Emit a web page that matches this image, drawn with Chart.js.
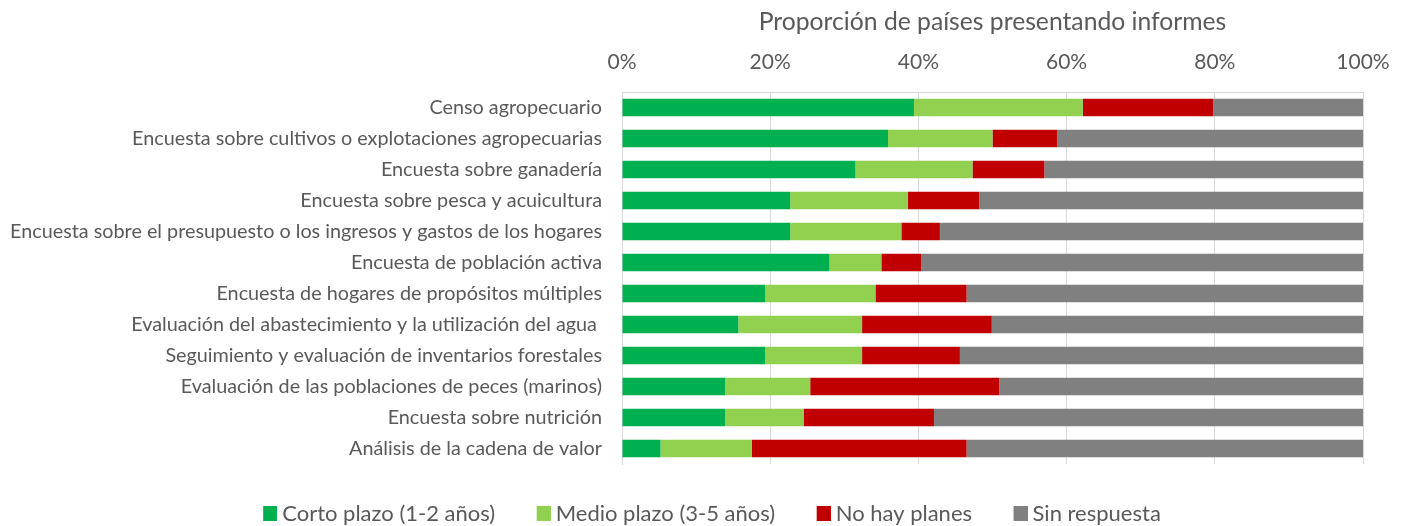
<!DOCTYPE html>
<html>
<head>
<meta charset="utf-8">
<script src="https://cdn.jsdelivr.net/npm/chart.js@4"></script>
<style>
  body { margin: 0; background: #fff; }
  #wrap { width: 1407px; height: 526px; }
</style>
</head>
<body>
<div id="wrap"><canvas id="chart"></canvas></div>
<script>
const categories = [
  "Censo agropecuario",
  "Encuesta sobre cultivos o explotaciones agropecuarias",
  "Encuesta sobre ganadería",
  "Encuesta sobre pesca y acuicultura",
  "Encuesta sobre el presupuesto o los ingresos y gastos de los hogares",
  "Encuesta de población activa",
  "Encuesta de hogares de propósitos múltiples",
  "Evaluación del abastecimiento y la utilización del agua ",
  "Seguimiento y evaluación de inventarios forestales",
  "Evaluación de las poblaciones de peces (marinos)",
  "Encuesta sobre nutrición",
  "Análisis de la cadena de valor"
];

const cortoPlazo = [39.4, 35.9, 31.5, 22.7, 22.7, 28.0, 19.3, 15.7, 19.3, 13.9, 13.9, 5.2];
const medioPlazo = [22.8, 14.1, 15.8, 15.9, 15.0, 7.0, 14.9, 16.7, 13.1, 11.5, 10.6, 12.3];
const noHayPlanes = [17.6, 8.7, 9.7, 9.6, 5.2, 5.4, 12.3, 17.5, 13.2, 25.5, 17.6, 29.0];
const sinRespuesta = [20.2, 41.3, 43.0, 51.8, 57.1, 59.6, 53.5, 50.1, 54.4, 49.1, 57.9, 53.5];

const seriesNames = ["Corto plazo (1-2 años)", "Medio plazo (3-5 años)", "No hay planes", "Sin respuesta"];
const seriesColors = ["#00B050", "#92D050", "#C00000", "#808080"];

const xTicks = [0, 20, 40, 60, 80, 100];

const FONT = "Lato";
const textColor = "#595959";
const gridColor = "#D9D9D9";

// legend swatch: square sits in the right part of a small canvas,
// so the gap between square and text stays tight like in Excel
function makeSwatch(color) {
  const cv = document.createElement("canvas");
  cv.width = 23;
  cv.height = 15;
  const g = cv.getContext("2d");
  g.fillStyle = color;
  g.fillRect(9, 0, 14, 15);
  return cv;
}
const swatches = seriesColors.map(makeSwatch);

// legend is centred on the whole page, not on the plot area
const legendShift = {
  id: "legendShift",
  afterLayout(chart) {
    chart.legend.left += 29;
    chart.legend.right += 29;
  }
};

const datasets = [cortoPlazo, medioPlazo, noHayPlanes, sinRespuesta].map((vals, i) => ({
  label: seriesNames[i],
  data: vals,
  backgroundColor: seriesColors[i],
  borderWidth: 0,
  categoryPercentage: 1,
  barPercentage: 0.57
}));

new Chart(document.getElementById("chart"), {
  type: "bar",
  data: { labels: categories, datasets: datasets },
  plugins: [legendShift],
  options: {
    indexAxis: "y",
    responsive: true,
    maintainAspectRatio: false,
    animation: false,
    layout: { padding: { left: 0, right: 44, top: 0, bottom: -8.5 } },
    plugins: {
      tooltip: { enabled: false },
      legend: {
        position: "bottom",
        labels: {
          usePointStyle: true,
          pointStyleWidth: 11,
          padding: 38.5,
          color: textColor,
          font: { family: FONT, size: 22 },
          generateLabels(chart) {
            return Chart.defaults.plugins.legend.labels.generateLabels(chart)
              .map((item, i) => ({ ...item, pointStyle: swatches[i] }));
          }
        }
      }
    },
    scales: {
      x: {
        position: "top",
        stacked: true,
        min: 0,
        max: 100,
        afterBuildTicks(scale) {
          scale.ticks = xTicks.map(v => ({ value: v }));
        },
        afterFit(scale) { scale.height = 92; },
        ticks: {
          color: textColor,
          font: { family: FONT, size: 21 },
          padding: 17,
          callback: v => v + "%"
        },
        grid: { color: gridColor, drawTicks: false },
        border: { display: true, color: gridColor },
        title: {
          display: true,
          text: "Proporción de países presentando informes",
          color: textColor,
          font: { family: FONT, size: 24.7 },
          padding: { top: 7, bottom: 0 }
        }
      },
      y: {
        stacked: true,
        afterFit(scale) { scale.width = 622; },
        ticks: {
          color: textColor,
          font: { family: FONT, size: 19.8 },
          padding: 20,
          autoSkip: false
        },
        grid: { display: false, drawTicks: false },
        border: { display: true, color: gridColor }
      }
    }
  }
});
</script>
</body>
</html>
